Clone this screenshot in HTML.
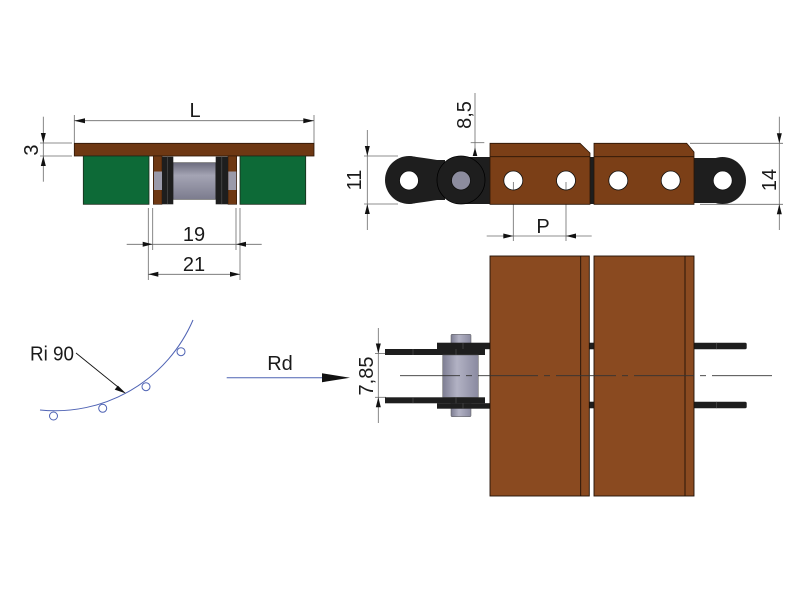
<!DOCTYPE html>
<html><head><meta charset="utf-8"><style>
html,body{margin:0;padding:0;background:#fff;}
svg{display:block;}
text{font-family:"Liberation Sans",sans-serif;fill:#1a1a1a;}
</style></head><body>
<svg width="800" height="600" viewBox="0 0 800 600" xmlns="http://www.w3.org/2000/svg">
<defs>
<linearGradient id="gv" x1="0" y1="0" x2="0" y2="1">
<stop offset="0" stop-color="#6c6c7e"/><stop offset="0.35" stop-color="#a4a4b4"/><stop offset="1" stop-color="#7c7c8e"/>
</linearGradient>
<linearGradient id="gh" x1="0" y1="0" x2="1" y2="0">
<stop offset="0" stop-color="#7d7d92"/><stop offset="0.4" stop-color="#b2b2c4"/><stop offset="1" stop-color="#8a8aa0"/>
</linearGradient>
</defs>

<!-- ===== TOP LEFT VIEW ===== -->
<g stroke="#6a6a6a" stroke-width="0.8" fill="none">
<line x1="74.3" y1="115" x2="74.3" y2="143"/>
<line x1="314" y1="115" x2="314" y2="143"/>
<line x1="74.3" y1="120.7" x2="314" y2="120.7"/>
<line x1="40" y1="143" x2="72" y2="143"/>
<line x1="40" y1="156" x2="72" y2="156"/>
<line x1="43.3" y1="116.7" x2="43.3" y2="181.7"/>
<line x1="152.7" y1="208" x2="152.7" y2="250"/>
<line x1="236" y1="208" x2="236" y2="250"/>
<line x1="126.7" y1="244.3" x2="261.7" y2="244.3"/>
<line x1="148.3" y1="208" x2="148.3" y2="280"/>
<line x1="240" y1="208" x2="240" y2="280"/>
<line x1="148.3" y1="274.3" x2="240" y2="274.3"/>
</g>
<g fill="#111">
<polygon points="74.3,120.7 85,118.2 85,123.2"/>
<polygon points="314,120.7 303.3,118.2 303.3,123.2"/>
<polygon points="43.3,143 40.8,133 45.8,133"/>
<polygon points="43.3,156 40.8,166 45.8,166"/>
<polygon points="152.7,244.3 142.7,241.8 142.7,246.8"/>
<polygon points="236,244.3 246,241.8 246,246.8"/>
<polygon points="148.3,274.3 158.3,271.8 158.3,276.8"/>
<polygon points="240,274.3 230,271.8 230,276.8"/>
</g>
<text x="195" y="117" font-size="20" text-anchor="middle">L</text>
<text x="194" y="241" font-size="20" text-anchor="middle">19</text>
<text x="194" y="271" font-size="20" text-anchor="middle">21</text>
<text transform="translate(38,150) rotate(-90)" font-size="20" text-anchor="middle">3</text>

<rect x="74.3" y="143.3" width="239.7" height="12.7" fill="#6e3813" stroke="#2a1506" stroke-width="0.8"/>
<rect x="83.3" y="156" width="65.7" height="48.3" fill="#0d6a37" stroke="#1a2a1a" stroke-width="0.8"/>
<rect x="240" y="156" width="65.7" height="48.3" fill="#0d6a37" stroke="#1a2a1a" stroke-width="0.8"/>
<rect x="153.3" y="156" width="8.7" height="48.3" fill="#6e3813" stroke="#2a1506" stroke-width="0.6"/>
<rect x="228" y="156" width="8.7" height="48.3" fill="#6e3813" stroke="#2a1506" stroke-width="0.6"/>
<rect x="154" y="171.5" width="8" height="18.5" fill="#9a9aaa"/>
<rect x="228.3" y="171.5" width="8" height="18.5" fill="#9a9aaa"/>
<rect x="173" y="162.7" width="42.7" height="36.6" fill="url(#gv)" stroke="#444" stroke-width="0.6"/>
<rect x="162" y="156.7" width="11.3" height="47.6" fill="#1e1e1e"/>
<rect x="215.7" y="156.7" width="12.3" height="47.6" fill="#1e1e1e"/>
<line x1="167.6" y1="156.7" x2="167.6" y2="204.3" stroke="#555" stroke-width="0.6"/>
<line x1="221.8" y1="156.7" x2="221.8" y2="204.3" stroke="#555" stroke-width="0.6"/>

<!-- ===== TOP RIGHT VIEW ===== -->
<g stroke="#6a6a6a" stroke-width="0.8" fill="none">
<line x1="367.3" y1="130" x2="367.3" y2="230"/>
<line x1="364" y1="156" x2="398" y2="156"/>
<line x1="364" y1="204" x2="398" y2="204"/>
<line x1="475" y1="93" x2="475" y2="156"/>
<line x1="470.7" y1="142.7" x2="484.3" y2="142.7"/>
<line x1="779.3" y1="116.7" x2="779.3" y2="230"/>
<line x1="690" y1="143.3" x2="783" y2="143.3"/>
<line x1="700" y1="204.3" x2="783" y2="204.3"/>
<line x1="513.3" y1="182" x2="513.3" y2="241"/>
<line x1="566" y1="182" x2="566" y2="241"/>
<line x1="486.7" y1="236" x2="591.7" y2="236"/>
</g>
<g fill="#111">
<polygon points="367.3,156 364.8,146 369.8,146"/>
<polygon points="367.3,204 364.8,214 369.8,214"/>
<polygon points="475,147.5 472.7,156 477.3,156"/>
<polygon points="779.3,143.3 776.8,133.3 781.8,133.3"/>
<polygon points="779.3,204.3 776.8,214.3 781.8,214.3"/>
<polygon points="513.3,236 503.3,233.5 503.3,238.5"/>
<polygon points="566,236 576,233.5 576,238.5"/>
</g>
<text transform="translate(361,180) rotate(-90)" font-size="20" text-anchor="middle">11</text>
<text transform="translate(471,115) rotate(-90)" font-size="20" text-anchor="middle">8,5</text>
<text transform="translate(776,180) rotate(-90)" font-size="20" text-anchor="middle">14</text>
<text x="543" y="233" font-size="20" text-anchor="middle">P</text>

<!-- chain left -->
<g fill="#1e1e1e">
<circle cx="409" cy="180" r="24"/>
<path d="M409,156 Q425,158 437,160 L445,160 L445,200 L437,200 Q425,202 409,204 Z"/>
<rect x="461" y="157" width="31" height="47"/>
<rect x="588" y="157" width="8" height="47"/>
<rect x="692" y="158" width="31" height="45"/>
<circle cx="722.5" cy="180.5" r="23.5"/>
</g>
<circle cx="461" cy="180" r="24" fill="#1e1e1e" stroke="#000" stroke-width="0.8"/>
<circle cx="409" cy="180.5" r="9.5" fill="#fff" stroke="#111" stroke-width="0.8"/>
<circle cx="461" cy="180.5" r="9.5" fill="#8c8c9e" stroke="#111" stroke-width="0.8"/>
<circle cx="722.7" cy="180.5" r="9.5" fill="#fff" stroke="#111" stroke-width="0.8"/>

<!-- blocks -->
<g fill="#7b3f17" stroke="#2a1506" stroke-width="0.8">
<polygon points="490,143.3 580,143.3 590,153 590,204.3 490,204.3"/>
<polygon points="594,143.3 686.7,143.3 694,152 694,204.3 594,204.3"/>
</g>
<line x1="490" y1="156.7" x2="590" y2="156.7" stroke="#2a1506" stroke-width="0.8"/>
<line x1="594" y1="156.7" x2="694" y2="156.7" stroke="#2a1506" stroke-width="0.8"/>
<g fill="#fff" stroke="#111" stroke-width="0.8">
<circle cx="513.3" cy="180.5" r="9.5"/>
<circle cx="566" cy="180.5" r="9.5"/>
<circle cx="618.3" cy="180.5" r="9.5"/>
<circle cx="670.7" cy="180.5" r="9.5"/>
</g>
<g stroke="#555" stroke-width="0.7">
<line x1="513.3" y1="182" x2="513.3" y2="190"/>
<line x1="566" y1="182" x2="566" y2="190"/>
</g>

<!-- ===== BOTTOM RIGHT VIEW ===== -->
<g stroke="#6a6a6a" stroke-width="0.8" fill="none">
<line x1="378.3" y1="328" x2="378.3" y2="423"/>
<line x1="375" y1="353.5" x2="386" y2="353.5"/>
<line x1="375" y1="397.3" x2="386" y2="397.3"/>
</g>
<g fill="#111">
<polygon points="378.3,353.5 375.8,343.5 380.8,343.5"/>
<polygon points="378.3,397.3 375.8,407.3 380.8,407.3"/>
</g>
<text transform="translate(373,376) rotate(-90)" font-size="20" text-anchor="middle">7,85</text>

<!-- pin end -->
<rect x="451" y="334.3" width="20" height="82.4" fill="url(#gh)" stroke="#555" stroke-width="0.5" rx="1"/>
<!-- plates left -->
<g fill="#1e1e1e">
<rect x="437" y="342.7" width="53" height="6.5"/>
<rect x="385" y="349" width="100" height="6"/>
<rect x="385" y="397.3" width="100" height="6"/>
<rect x="437" y="403.2" width="53" height="5.5"/>
</g>
<g stroke="#555" stroke-width="0.6">
<line x1="413" y1="349" x2="413" y2="355"/>
<line x1="456" y1="349" x2="456" y2="355"/>
<line x1="413" y1="397.3" x2="413" y2="403.3"/>
<line x1="456" y1="397.3" x2="456" y2="403.3"/>
<line x1="463" y1="342.7" x2="463" y2="349"/>
<line x1="463" y1="403.2" x2="463" y2="408.7"/>
</g>
<rect x="442.7" y="355" width="35.6" height="42.3" fill="url(#gh)" stroke="#555" stroke-width="0.5"/>
<!-- right plates -->
<g fill="#1e1e1e">
<rect x="589" y="342.7" width="6" height="6.6"/>
<rect x="589" y="401.7" width="6" height="6.6"/>
<rect x="692" y="342.7" width="54.7" height="6.6" rx="1.5"/>
<rect x="692" y="401.7" width="54.7" height="6.6" rx="1.5"/>
</g>
<line x1="716.7" y1="342.7" x2="716.7" y2="349.3" stroke="#555" stroke-width="0.6"/>
<line x1="716.7" y1="401.7" x2="716.7" y2="408.3" stroke="#555" stroke-width="0.6"/>
<!-- blocks -->
<g fill="#8a4a20" stroke="#1f1005" stroke-width="0.9">
<rect x="490" y="256" width="99.3" height="240"/>
<rect x="594" y="256" width="100" height="240"/>
</g>
<line x1="580.7" y1="256" x2="580.7" y2="496" stroke="#1f1005" stroke-width="0.9"/>
<line x1="685" y1="256" x2="685" y2="496" stroke="#1f1005" stroke-width="0.9"/>
<!-- centerline -->
<line x1="400" y1="375.7" x2="775" y2="375.7" stroke="#333" stroke-width="0.8" stroke-dasharray="60,6,6,6"/>

<!-- ===== BOTTOM LEFT ===== -->
<path d="M40,410 A150,150 0 0 0 193,320" fill="none" stroke="#4f63b4" stroke-width="1"/>
<g fill="#fff" stroke="#4f63b4" stroke-width="1">
<circle cx="53.5" cy="416" r="4"/>
<circle cx="102.7" cy="408.3" r="4"/>
<circle cx="146" cy="386.7" r="4"/>
<circle cx="181" cy="351.7" r="4"/>
</g>
<text x="30" y="360.5" font-size="20" textLength="44" lengthAdjust="spacingAndGlyphs">Ri 90</text>
<line x1="76" y1="353" x2="118" y2="387" stroke="#111" stroke-width="0.9"/>
<polygon points="126,393.5 114.7,389.6 117.9,385.6" fill="#111"/>
<text x="280" y="370" font-size="20" text-anchor="middle">Rd</text>
<line x1="226.7" y1="377.7" x2="325" y2="377.7" stroke="#4f63b4" stroke-width="1"/>
<polygon points="350,377.7 322,373.2 322,382.2" fill="#111"/>
</svg>
</body></html>
